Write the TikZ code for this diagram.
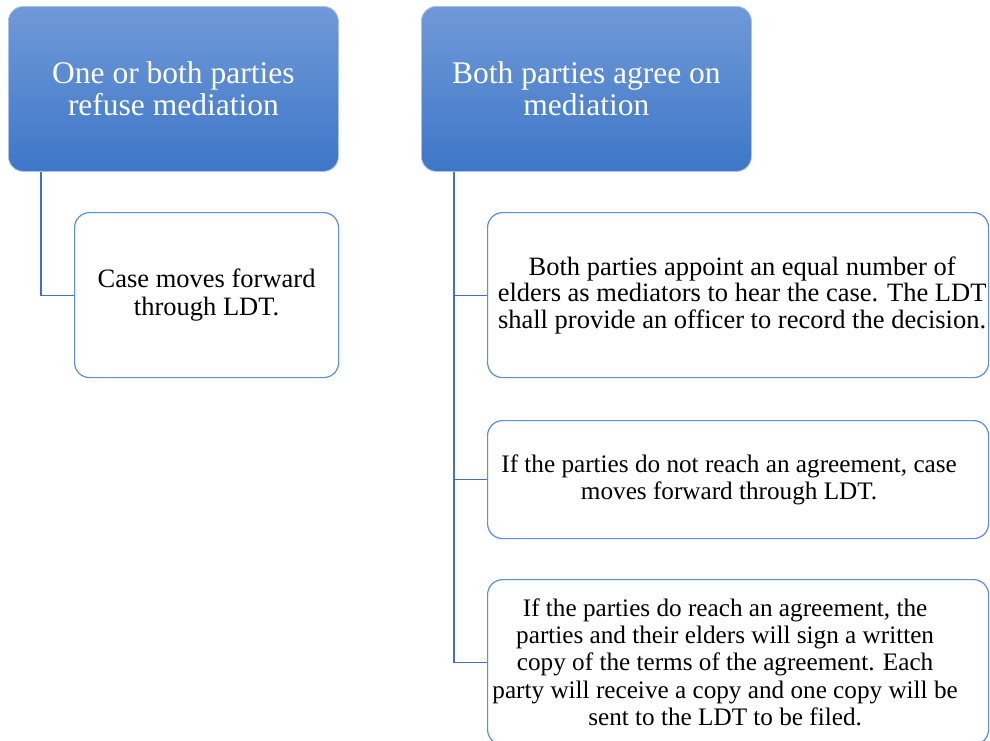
\documentclass[tikz,border=0pt]{standalone}
\usepackage{fontspec}
\setmainfont{Liberation Serif}
\definecolor{hdtop}{HTML}{7199D8}
\definecolor{hdbot}{HTML}{3D77C8}
\definecolor{boxline}{HTML}{5D8ED8}
\definecolor{conn}{HTML}{4470BE}
\begin{document}
\begin{tikzpicture}[x=1pt,y=-1pt,
  header/.style={rounded corners=15pt, top color=hdtop, bottom color=hdbot, draw=hdtop!60!white, line width=0.8pt,
    minimum width=330pt, minimum height=165pt, text=white, align=center,
    font=\fontsize{31.5}{31.5}\selectfont, anchor=north west, inner sep=0pt},
  child/.style={rounded corners=15pt, fill=white, draw=boxline, line width=1.2pt,
    minimum height=165pt, text=black, align=center,
    font=\fontsize{26.5}{26.5}\selectfont, anchor=north west, inner sep=0pt},
  childtext/.style={align=center, text=black, inner sep=0pt, font=\fontsize{26.5}{26.5}\selectfont},
  small/.style={font=\fontsize{25.2}{27.3}\selectfont},
  link/.style={draw=conn, line width=1.2pt}]
\useasboundingbox (0,0) rectangle (990,740);
\clip (0,0) rectangle (990,740);
\node[header] (h1) at (8,6) {One or both parties\\refuse mediation};
\node[header] (h2) at (421,6) {Both parties agree on\\mediation};
\node[child, minimum width=264pt, font=\fontsize{26.5}{28}\selectfont] (c1) at (74,212) {Case moves forward\\through LDT.};
\node[child, minimum width=501pt] (r1) at (487,212) {};
\node[child, minimum width=501pt, minimum height=118pt] (r2) at (487,420) {};
\node[child, minimum width=501pt] (r3) at (487,579) {};
\node[childtext] (r1t) at ([xshift=4pt]r1.center) {Both parties appoint an equal number of\\elders as mediators to hear the case. The LDT\\shall provide an officer to record the decision.};
\node[childtext, small] (r2t) at ([xshift=-9pt]r2.center) {If the parties do not reach an agreement, case\\moves forward through LDT.};
\node[childtext, small] (r3t) at ([xshift=-13pt]r3.center) {If the parties do reach an agreement, the\\parties and their elders will sign a written\\copy of the terms of the agreement. Each\\party will receive a copy and one copy will be\\sent to the LDT to be filed.};
\coordinate (t1) at ([xshift=33pt]h1.south west);
\coordinate (t2) at ([xshift=33pt]h2.south west);
\draw[link] (t1) |- (c1.west);
\draw[link] (t2) |- (r3.west);
\draw[link] (r1.west -| t2) -- (r1.west);
\draw[link] (r2.west -| t2) -- (r2.west);
\end{tikzpicture}
\end{document}
